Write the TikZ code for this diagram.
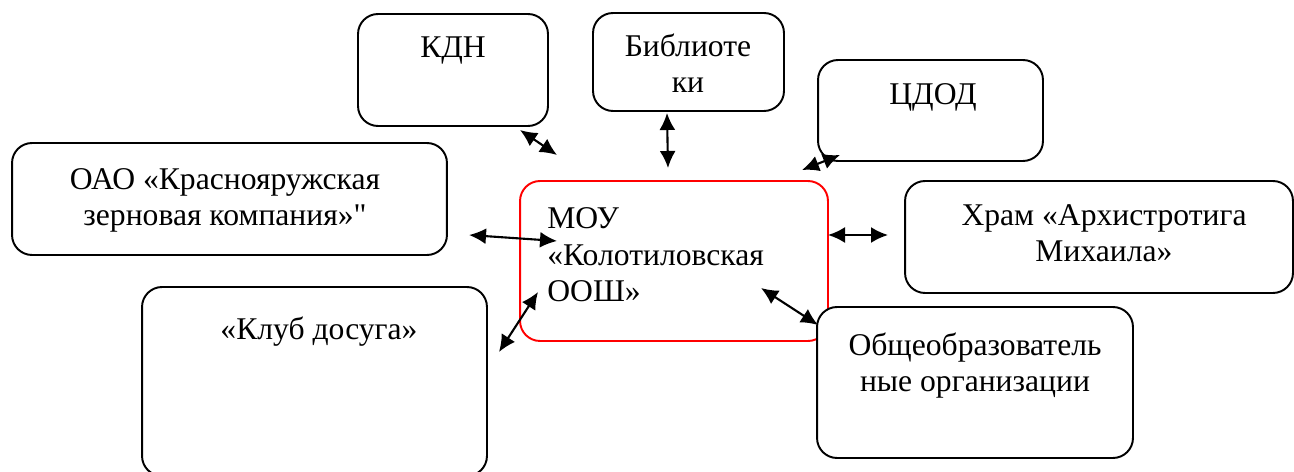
\documentclass[tikz,border=0pt]{standalone}
\usepackage{fontspec}
\setmainfont{Liberation Serif}[Ligatures=TeXOff]
\usetikzlibrary{arrows.meta}

\tikzset{
    partner/.style={draw,line width=1.1pt,rounded corners=0.4cm,fill=white,inner sep=0pt},
    school/.style={partner,draw=red},
    caption/.style={inner sep=0pt,align=center,anchor=base,
        font=\rmfamily\fontsize{18}{20.8}\selectfont},
    link/.style={line width=1.2pt,{Latex[length=0.34cm,width=0.32cm]}-{Latex[length=0.34cm,width=0.32cm]}}
}

\begin{document}
\begin{tikzpicture}[x=0.02cm,y=-0.02cm]
            \useasboundingbox (0,0) rectangle (1294,472);
            \clip (0,0) rectangle (1294,472);

            % partners round the school
            \node[partner,minimum width=3.8cm,minimum height=2.24cm] (kdn) at (453,70) {};
            \node[caption] (kdn-t) at (453,58) {КДН};

            \node[partner,minimum width=3.82cm,minimum height=1.96cm] (lib) at (688.5,62) {};
            \node[caption] (lib-t) at (688,93) {Библиоте\\ки};

            \node[partner,minimum width=4.5cm,minimum height=2.02cm] (cdod) at (930.5,110.5) {};
            \node[caption] (cdod-t) at (933,105) {ЦДОД};

            \node[partner,minimum width=8.7cm,minimum height=2.24cm] (oao) at (229.5,199) {};
            \node[caption] (oao-t) at (225,226) {ОАО «Краснояружская\\зерновая компания»"};

            \node[partner,minimum width=7.76cm,minimum height=2.24cm] (hram) at (1099,237) {};
            \node[caption] (hram-t) at (1104,262) {Храм «Архистротига\\Михаила»};

            \node[partner,minimum width=6.9cm,minimum height=3.78cm] (club) at (314.5,381.5) {};
            \node[caption] (club-t) at (319,340) {«Клуб досуга»};

            % the school
            \node[school,minimum width=6.16cm,minimum height=3.2cm] (mou) at (674,261) {};
            \node[caption,align=left,anchor=base west] (mou-t) at (547,302)
                {МОУ\\«Колотиловская\\ООШ»};

            \node[partner,minimum width=6.32cm,minimum height=3.02cm] (obr) at (975,382.5) {};
            \node[caption] (obr-t) at (975,392) {Общеобразователь\\ные организации};

            % arrow ends
            \coordinate (kdn-a) at (520,130);
            \coordinate (kdn-b) at (557,155);
            \coordinate (lib-a) at (667,113);
            \coordinate (lib-b) at (668,168);
            \coordinate (cdod-a) at (840,155);
            \coordinate (cdod-b) at (802,170);
            \coordinate (oao-a) at (469,235);
            \coordinate (oao-b) at (557,241);
            \coordinate (hram-a) at (828,235);
            \coordinate (hram-b) at (888,235);
            \coordinate (club-a) at (499,352);
            \coordinate (club-b) at (538,292);
            \coordinate (obr-a) at (761,288);
            \coordinate (obr-b) at (818,325);

            \draw[link] (kdn-a) -- (kdn-b);
            \draw[link] (lib-a) -- (lib-b);
            \draw[link] (cdod-a) -- (cdod-b);
            \draw[link] (oao-a) -- (oao-b);
            \draw[link] (hram-a) -- (hram-b);
            \draw[link] (club-a) -- (club-b);
            \draw[link] (obr-a) -- (obr-b);
\end{tikzpicture}
\end{document}
